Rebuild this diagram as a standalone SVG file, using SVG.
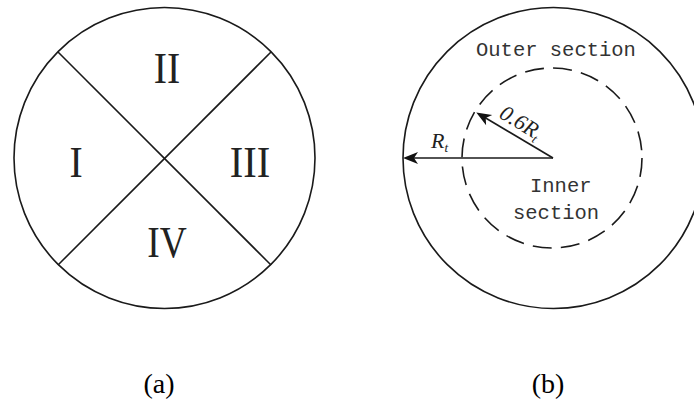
<svg xmlns="http://www.w3.org/2000/svg" width="694" height="402" viewBox="0 0 694 402">
<defs>
<style>
.ln{fill:none;stroke:#1a1a1a;stroke-width:1.6}
.dash{fill:none;stroke:#1a1a1a;stroke-width:1.6;stroke-dasharray:19 9.3}
.rom{font-family:"Liberation Serif",serif;font-size:44px;fill:#222;text-anchor:middle}
.mono{font-family:"Liberation Mono",monospace;font-size:20.5px;fill:#333}
.it{font-family:"Liberation Serif",serif;font-style:italic;font-size:22px;fill:#222}
.cap{font-family:"Liberation Serif",serif;font-size:28px;fill:#000;text-anchor:middle}
</style>
<marker id="ah" markerUnits="userSpaceOnUse" viewBox="-8 -7 18 14" markerWidth="18" markerHeight="14" refX="0" refY="0" orient="auto">
<path d="M9,0 L-6,-6 L-2,0 L-6,6 Z" fill="#111"/>
</marker>
</defs>
<rect width="694" height="402" fill="#fff"/>
<g id="diagram-a">
<circle class="ln" cx="164.5" cy="158" r="150.5"/>
<g id="dividers">
<line class="ln" x1="58" y1="52" x2="271" y2="265"/>
<line class="ln" x1="271" y1="52" x2="58" y2="265"/>
</g>
<g id="region-I"><text class="rom" transform="translate(76,177) scale(0.9,1)">I</text></g>
<g id="region-II"><text class="rom" transform="translate(167,83) scale(0.9,1)">II</text></g>
<g id="region-III"><text class="rom" transform="translate(250,177) scale(0.92,1)">III</text></g>
<g id="region-IV"><text class="rom" transform="translate(167,257) scale(0.85,1)">IV</text></g>
</g>
<g id="diagram-b">
<circle id="outer-circle" class="ln" cx="553.5" cy="158" r="150.5"/>
<circle id="inner-circle" class="dash" cx="552" cy="158" r="90"/>
<g id="connectors">
<line class="ln" x1="553" y1="158" x2="412" y2="158" marker-end="url(#ah)"/>
<line class="ln" x1="553" y1="158" x2="484" y2="117" marker-end="url(#ah)"/>
</g>
<g id="label-outer"><text class="mono" x="476" y="56">Outer section</text></g>
<g id="label-inner"><text class="mono" x="530" y="192">Inner</text><text class="mono" x="513" y="219">section</text></g>
<g id="label-Rt"><text class="it" x="431" y="148">R<tspan font-size="13" dy="4">t</tspan></text></g>
<g id="label-06Rt"><text class="it" font-size="23" transform="translate(498,117) rotate(31)">0.6R<tspan font-size="13" dy="4">t</tspan></text></g>
</g>
<g id="caption-a"><text class="cap" x="159" y="393">(a)</text></g>
<g id="caption-b"><text class="cap" x="548" y="393">(b)</text></g>
</svg>
